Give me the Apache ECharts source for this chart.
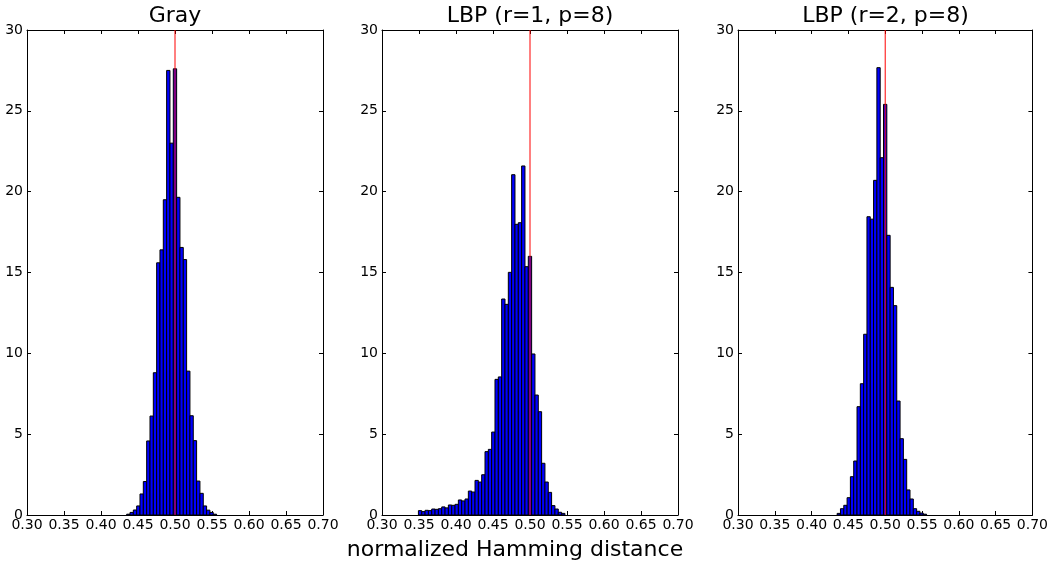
<!DOCTYPE html>
<html>
<head>
<meta charset="utf-8">
<script src="https://cdn.jsdelivr.net/npm/echarts@6/dist/echarts.min.js"></script>
<style>
  html, body { margin: 0; padding: 0; background: #fff; }
  #chart { width: 1051px; height: 565px; }
</style>
</head>
<body>
<div id="chart"></div>
<script>
const PANEL_TITLES = ['Gray', 'LBP (r=1, p=8)', 'LBP (r=2, p=8)']
const X_LABEL = 'normalized Hamming distance'
const X_MIN = 0.3
const X_MAX = 0.7
const X_STEP = 0.05
const Y_MIN = 0
const Y_MAX = 30
const Y_STEP = 5
const THRESHOLD = 0.5

// histogram bins: left edge of the first bin, common width
const BIN_WIDTH = 0.0045
const GRAY_FIRST_BIN = 0.4347
const GRAY_COUNTS = [
  0.05, 0.16, 0.31, 0.56, 1.3, 2.07, 4.58, 6.12, 8.8, 15.6,
  16.4, 19.5, 27.5, 23.0, 27.6, 19.65, 16.55, 15.8, 8.9, 6.14,
  4.6, 2.1, 1.34, 0.56, 0.3, 0.16, 0.05,
]
const LBP1_FIRST_BIN = 0.3492
const LBP1_COUNTS = [
  0.27, 0.21, 0.29, 0.27, 0.37, 0.35, 0.39, 0.5, 0.44, 0.62,
  0.6, 0.66, 0.93, 0.87, 0.99, 1.48, 1.42, 2.14, 2.04, 2.49,
  3.92, 4.06, 5.13, 8.39, 8.54, 13.36, 13.03, 15.01, 21.05, 17.98,
  18.08, 21.59, 15.36, 16.0, 9.96, 7.42, 6.39, 3.2, 2.04, 1.4,
  0.58, 0.37, 0.17, 0.1,
]
const LBP2_FIRST_BIN = 0.4347
const LBP2_COUNTS = [
  0.1, 0.39, 0.6, 1.07, 2.37, 3.34, 6.7, 8.12, 11.18, 18.45,
  18.3, 20.7, 27.67, 22.1, 25.4, 17.3, 14.08, 12.95, 7.05, 4.72,
  3.44, 1.55, 0.99, 0.39, 0.23, 0.12, 0.05,
]

const PANELS = [
  { title: PANEL_TITLES[0], first: GRAY_FIRST_BIN, counts: GRAY_COUNTS, left: 27, width: 296 },
  { title: PANEL_TITLES[1], first: LBP1_FIRST_BIN, counts: LBP1_COUNTS, left: 382, width: 296 },
  { title: PANEL_TITLES[2], first: LBP2_FIRST_BIN, counts: LBP2_COUNTS, left: 738, width: 295 },
]

const FONT = 'DejaVu Sans'
const GRID_TOP = 30
const GRID_HEIGHT = 485

const chart = echarts.init(document.getElementById('chart'), null, { renderer: 'canvas' })

const grids = []
const xAxes = []
const yAxes = []
const series = []
const graphics = []

const frameAxis = {
  axisLine: { show: true, onZero: false, lineStyle: { color: '#000', width: 1 } },
  axisTick: { show: true, inside: true, length: 4, lineStyle: { color: '#000', width: 1 } },
  splitLine: { show: false },
}

PANELS.forEach((panel, i) => {
  grids.push({ left: panel.left, top: GRID_TOP, width: panel.width, height: GRID_HEIGHT })

  const xBase = {
    type: 'value', gridIndex: i, min: X_MIN, max: X_MAX, interval: X_STEP, ...frameAxis,
  }
  xAxes.push({
    ...xBase,
    position: 'bottom',
    axisLabel: {
      color: '#000', fontFamily: FONT, fontSize: 14, margin: 3,
      formatter: (v) => v.toFixed(2),
    },
  })
  xAxes.push({ ...xBase, position: 'top', axisLabel: { show: false } })

  const yBase = {
    type: 'value', gridIndex: i, min: Y_MIN, max: Y_MAX, interval: Y_STEP, ...frameAxis,
  }
  yAxes.push({
    ...yBase,
    position: 'left',
    axisLabel: { color: '#000', fontFamily: FONT, fontSize: 14, margin: 4 },
  })
  yAxes.push({ ...yBase, position: 'right', axisLabel: { show: false } })

  series.push({
    type: 'custom',
    xAxisIndex: 2 * i,
    yAxisIndex: 2 * i,
    data: panel.counts.map((c, k) => [panel.first + k * BIN_WIDTH, c]),
    encode: { x: 0, y: 1 },
    renderItem: (params, api) => {
      const start = api.value(0)
      const topLeft = api.coord([start, api.value(1)])
      const bottomRight = api.coord([start + BIN_WIDTH, 0])
      return {
        type: 'rect',
        shape: {
          x: topLeft[0],
          y: topLeft[1],
          width: bottomRight[0] - topLeft[0],
          height: bottomRight[1] - topLeft[1],
        },
        style: { fill: '#0000ff', stroke: '#000', lineWidth: 1 },
      }
    },
    z: 2,
  })

  // vertical threshold line at 0.5
  series.push({
    type: 'line',
    xAxisIndex: 2 * i,
    yAxisIndex: 2 * i,
    data: [[THRESHOLD, Y_MIN], [THRESHOLD, Y_MAX]],
    showSymbol: false,
    symbol: 'none',
    silent: true,
    lineStyle: { color: '#ff0000', width: 1 },
    z: 5,
  })

  graphics.push({
    type: 'text',
    x: panel.left + panel.width / 2,
    y: 16,
    style: {
      text: panel.title, fill: '#000', font: `22px "${FONT}"`,
      textAlign: 'center', textVerticalAlign: 'middle',
    },
  })
})

graphics.push({
  type: 'text',
  x: 515,
  y: 550,
  style: {
    text: X_LABEL, fill: '#000', font: `22px "${FONT}"`,
    textAlign: 'center', textVerticalAlign: 'middle',
  },
})

chart.setOption({
  animation: false,
  backgroundColor: '#fff',
  grid: grids,
  xAxis: xAxes,
  yAxis: yAxes,
  series: series,
  graphic: graphics,
})
</script>
</body>
</html>
